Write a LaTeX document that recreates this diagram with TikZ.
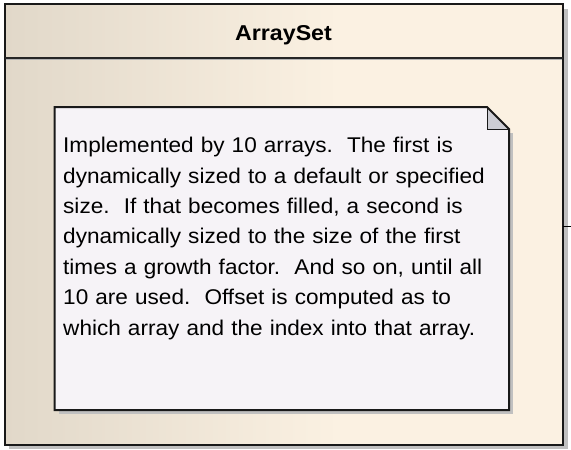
\documentclass[tikz,border=0pt]{standalone}
\usepackage{fontspec}
\setmainfont{Liberation Sans}
\newfontfamily\notefont[FakeStretch=1.06]{Liberation Sans}
\newfontfamily\titlefont[FakeStretch=1.08]{Liberation Sans}
\definecolor{cA}{RGB}{225,216,201}
\definecolor{cB}{RGB}{251,241,226}
\definecolor{notefill}{RGB}{246,243,247}
\definecolor{shadowc}{RGB}{192,192,192}
\definecolor{foldc}{RGB}{205,205,212}
\pgfdeclarehorizontalshading{classbg}{100bp}{color(0bp)=(cA); color(25bp)=(cA); color(55bp)=(cB); color(75bp)=(cB); color(100bp)=(cB)}
\tikzset{
  outline/.style={draw=black!90, line width=2pt},
  titletext/.style={font=\titlefont\fontsize{21.5}{24}\selectfont\bfseries, inner sep=0pt},
  notetext/.style={font=\notefont\fontsize{21.3}{30.4}\selectfont, inner sep=0pt, align=left, text width=460pt, anchor=north west},
}
\begin{document}
\begin{tikzpicture}[x=1pt,y=-1pt]
\useasboundingbox (0,0) rectangle (571,450);
% class shadow
\fill[shadowc] (9,9) rectangle (568,449);
% class box
\shade[shading=classbg] (4.5,4) rectangle (562.5,445);
\draw[outline] (4.5,4) rectangle (562.5,445);
\draw[black!85, line width=2pt] (4.5,57.5) -- (562.5,57.5);
\draw[black!30, line width=0.6pt] (5.5,59.2) -- (561.5,59.2);
\node[titletext, anchor=base] (title) at (283.5,40.5) {ArraySet};
% tick on right edge
\coordinate (tickend) at (571,226);
\draw[black, line width=1pt] (562.5,226) -- (tickend);
% note shadow
\fill[shadowc] (59,133) -- (513,133) -- (513,414) -- (59,414) -- cycle;
% note
\fill[notefill] (54.5,107) -- (487,107) -- (509,129) -- (509,410) -- (54.5,410) -- cycle;
\fill[foldc] (487,107) -- (487,129) -- (509,129) -- cycle;
\draw[black!90, line width=2pt, line join=miter] (54.5,107) -- (487,107) -- (509,129) -- (509,410) -- (54.5,410) -- cycle;
\draw[black!90, line width=1pt] (487,107) -- (487,129) -- (509,129);
\node[notetext] (note) at (63,137) {Implemented by 10 arrays.\ \ The first is\\dynamically sized to a default or specified\\size.\ \ If that becomes filled, a second is\\dynamically sized to the size of the first\\times a growth factor.\ \ And so on, until all\\10 are used.\ \ Offset is computed as to\\which array and the index into that array.};
\end{tikzpicture}
\end{document}
